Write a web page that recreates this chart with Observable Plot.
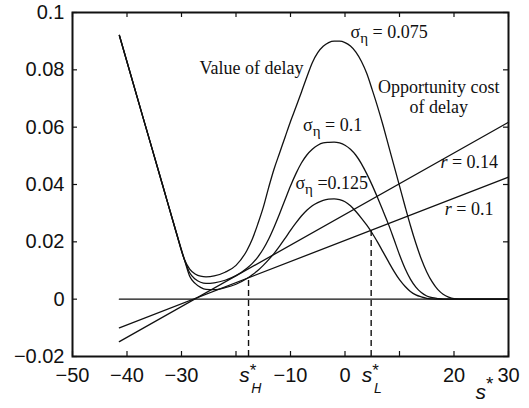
<!DOCTYPE html>
<html><head><meta charset="utf-8">
<script src="https://cdn.jsdelivr.net/npm/d3@7"></script>
<script src="https://cdn.jsdelivr.net/npm/@observablehq/plot@0.6"></script>
<style>body{margin:0;background:#fff}</style>
</head><body><div id="chart"></div>
<script>
// ---- data ----
const sGrid = [-41.4,-37,-33.5,-31,-29.5,-28.5,-27.5,-26.5,-25.5,-24,-22,-20,
  -18,-17,-16,-15,-14,-13,-12,-11,-10,-9,-8,-7,-6,-5,-4,-3,-2,-1,
  0,1,2,3,4,5,6,7,8,9,10,11,12,13,14,15,16,17,18,19,20,22,30];
const value075 = [0.092,0.063,0.040,0.0235,0.0140,0.0105,0.0088,0.0080,0.0078,0.0081,0.0094,0.0118,
  0.0170,0.0210,0.0262,0.0320,0.0390,0.0455,0.0510,0.0565,0.0620,0.0670,0.0722,0.0775,0.0825,0.0860,0.0882,0.0895,0.0900,0.0900,
  0.0895,0.0883,0.0862,0.0830,0.0787,0.0730,0.0670,0.0605,0.0535,0.0465,0.0395,0.0325,0.0257,0.0195,0.0140,0.0095,0.0060,0.0034,0.0017,0.0007,0.0002,0,0];
const value10 = [0.092,0.063,0.040,0.0235,0.0140,0.0092,0.0070,0.0059,0.0055,0.0057,0.0066,0.0082,
  0.0108,0.0125,0.0147,0.0175,0.0210,0.0252,0.0298,0.0347,0.0395,0.0438,0.0475,0.0503,0.0523,0.0537,0.0545,0.0547,0.0548,0.0545,
  0.0537,0.0523,0.0502,0.0473,0.0437,0.0397,0.0353,0.0307,0.0260,0.0208,0.0155,0.0108,0.0070,0.0042,0.0023,0.0011,0.0005,0.0002,0,0,0,0,0];
const value125 = [0.092,0.063,0.040,0.0235,0.0140,0.0080,0.0055,0.0041,0.0034,0.0033,0.0040,0.0052,
  0.0072,0.0085,0.0100,0.0118,0.0138,0.0160,0.0185,0.0212,0.0240,0.0266,0.0290,0.0310,0.0326,0.0337,0.0345,0.0349,0.0350,0.0347,
  0.0340,0.0326,0.0306,0.0283,0.0258,0.0230,0.0198,0.0164,0.0130,0.0097,0.0068,0.0045,0.0027,0.0015,0.0008,0.0003,0.0001,0,0,0,0,0,0];
const costS = [-41.4, 30];
const cost014 = [-0.0148, 0.0617];
const cost010 = [-0.0100, 0.0426];
const zeroS = [-41.4, 30];
const zeroV = [0, 0];
const sStar = [-17.7, 4.8];
const sStarTop = [0.0075, 0.0242];
const sStarLabel = ["s*_H", "s*_L"];
const xAxisLabel = "s*";
const xDomain = [-50, 30];
const yDomain = [-0.02, 0.1];
const xTicks = [-50,-40,-30,-20,-10,0,10,20,30];
const xTickLabels = ["−50","−40","−30","","−10","0","","20","30"];
const yTicks = [-0.02,0,0.02,0.04,0.06,0.08,0.1];
const yTickLabels = ["−0.02","0","0.02","0.04","0.06","0.08","0.1"];
const annText = ["Value of delay","σ_η = 0.075","σ_η = 0.1","σ_η =0.125","Opportunity cost","of delay","r = 0.14","r = 0.1"];
const annS = [-26.7, 1.0, -7.7, -9.1, 17.2, 17.2, 17.5, 18.3];
const annV = [0.0784, 0.0910, 0.0586, 0.0383, 0.0718, 0.0651, 0.0458, 0.0295];
const annAnchor = ["start","start","start","start","middle","middle","start","start"];

// ---- tables ----
const curves = [
  ...sGrid.map((s,i)=>({s, v:value075[i], k:"0.075"})),
  ...sGrid.map((s,i)=>({s, v:value10[i], k:"0.1"})),
  ...sGrid.map((s,i)=>({s, v:value125[i], k:"0.125"}))
];
const costs = [
  ...costS.map((s,i)=>({s, v:cost014[i], k:"0.14"})),
  ...costS.map((s,i)=>({s, v:cost010[i], k:"0.1"}))
];
const zero = zeroS.map((s,i)=>({s, v:zeroV[i]}));
const stars = sStar.map((s,i)=>({s, top:sStarTop[i], label:sStarLabel[i]}));
const ann = annText.map((t,i)=>({t, s:annS[i], v:annV[i], a:annAnchor[i]}));

const W = 529, H = 408, mt = 12, mr = 21, mb = 52, ml = 72, tickLen = 5;
const frameW = W - ml - mr, frameH = H - mt - mb;
const ink = "#111";
const serif = "'Liberation Serif', 'Times New Roman', serif";

const annMark = anchor => Plot.text(ann.filter(d => d.a === anchor), {
  x: "s", y: "v", text: "t", textAnchor: anchor, lineAnchor: "bottom",
  fontFamily: serif, fontSize: 18, fill: ink
});

const plot = Plot.plot({
  width: W, height: H,
  marginTop: mt, marginRight: mr, marginBottom: mb, marginLeft: ml,
  style: {background: "#fff", fontFamily: "'Liberation Sans', Arial, sans-serif", fontSize: "20px", color: ink},
  x: {domain: xDomain},
  y: {domain: yDomain},
  marks: [
    Plot.axisX({ticks: xTicks, tickFormat: d => xTickLabels[xTicks.indexOf(d)], tickSize: 0, tickPadding: 11, label: null}),
    Plot.axisY({ticks: yTicks, tickFormat: d => yTickLabels[yTicks.indexOf(d)], tickSize: 0, tickPadding: 8, label: null}),
    Plot.tickX(xTicks, {x: d => d, insetTop: frameH - tickLen, stroke: ink, strokeWidth: 1.2}),
    Plot.tickX(xTicks, {x: d => d, insetBottom: frameH - tickLen, stroke: ink, strokeWidth: 1.2}),
    Plot.tickY(yTicks, {y: d => d, insetRight: frameW - tickLen, stroke: ink, strokeWidth: 1.2}),
    Plot.tickY(yTicks, {y: d => d, insetLeft: frameW - tickLen, stroke: ink, strokeWidth: 1.2}),
    Plot.line(zero, {x: "s", y: "v", stroke: ink, strokeWidth: 1.3}),
    Plot.line(costs, {x: "s", y: "v", z: "k", stroke: ink, strokeWidth: 1.3}),
    Plot.line(curves, {x: "s", y: "v", z: "k", stroke: ink, strokeWidth: 1.3, curve: "monotone-x"}),
    Plot.ruleX(stars, {x: "s", y1: yDomain[0], y2: "top", stroke: ink, strokeWidth: 1.4, strokeDasharray: "6,4"}),
    Plot.text(stars, {x: "s", frameAnchor: "bottom", text: "label", dx: -9.3, dy: 25, lineAnchor: "bottom", textAnchor: "start", fontSize: 21, fontStyle: "italic", fill: ink}),
    Plot.text([xAxisLabel], {frameAnchor: "bottom-right", text: d => d, dx: -33, dy: 42, lineAnchor: "bottom", textAnchor: "start", fontSize: 21, fontStyle: "italic", fill: ink}),
    annMark("start"),
    annMark("middle"),
    Plot.frame({stroke: ink, strokeWidth: 2})
  ]
});

// sub/superscript and italic styling of labels
d3.select(plot).selectAll("text").each(function() {
  const t = this.textContent;
  const el = d3.select(this);
  if (t.startsWith("σ_η")) {
    el.text(null);
    el.append("tspan").attr("fill", ink).text("σ");
    el.append("tspan").attr("fill", ink).attr("font-size", 15).attr("dy", 5).text("η");
    el.append("tspan").attr("fill", ink).attr("dy", -5).text(t.slice(3));
  } else if (t.startsWith("r =")) {
    el.text(null);
    el.append("tspan").attr("fill", ink).attr("font-style", "italic").text("r");
    el.append("tspan").attr("fill", ink).text(t.slice(1));
  } else if (/^s\*_.$/.test(t)) {
    el.text(null);
    el.append("tspan").attr("fill", ink).text("s");
    el.append("tspan").attr("fill", ink).attr("font-style", "normal").attr("font-size", 17).attr("dy", -6).text("*");
    el.append("tspan").attr("fill", ink).attr("font-size", 14).attr("dx", -5).attr("dy", 17).text(t.slice(3));
  } else if (t === "s*") {
    el.text(null);
    el.append("tspan").attr("fill", ink).text("s");
    el.append("tspan").attr("fill", ink).attr("font-style", "normal").attr("font-size", 19).attr("dy", -9).text("*");
  }
});

document.getElementById("chart").append(plot);
</script></body></html>
